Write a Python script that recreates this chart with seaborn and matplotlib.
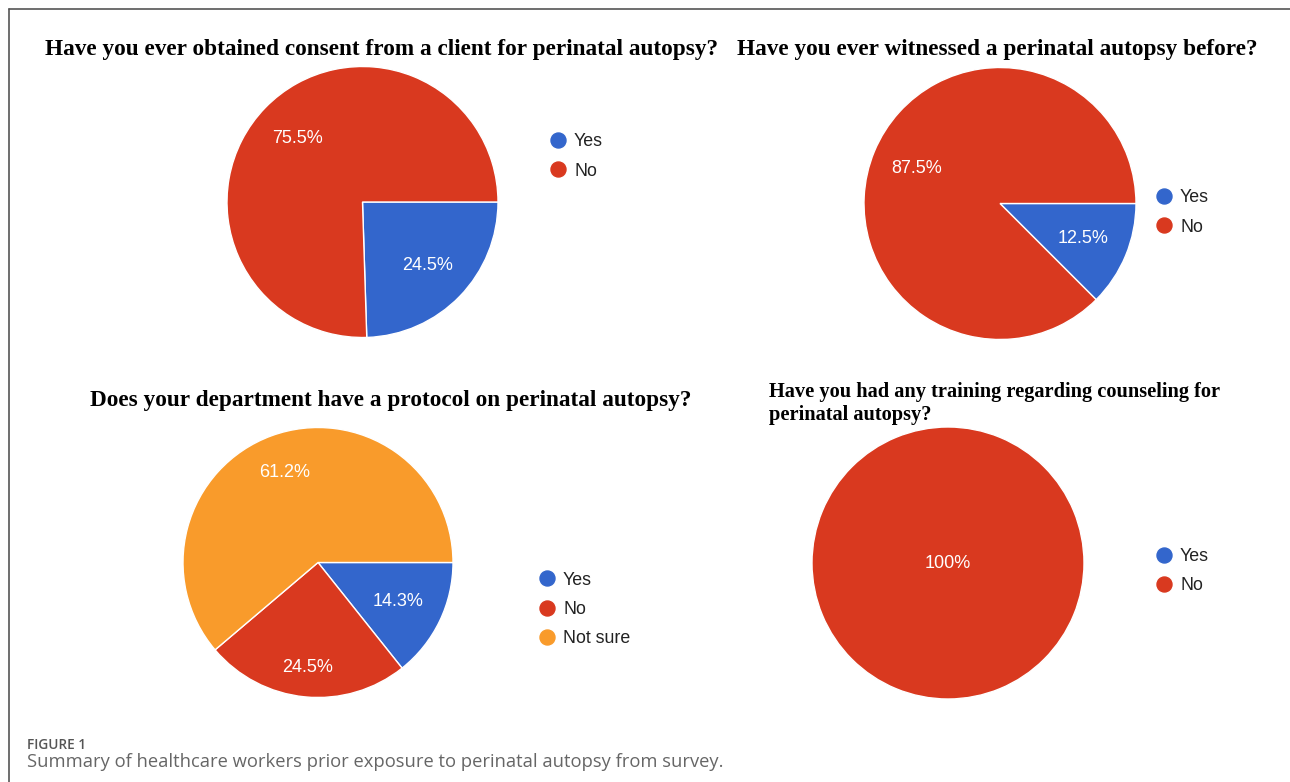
import matplotlib
matplotlib.use("Agg")
import matplotlib.pyplot as plt
from matplotlib.lines import Line2D
import seaborn as sns

# ---- survey results (percent of respondents) ----
answers_yes_no = ["Yes", "No"]
answers_protocol = ["Yes", "No", "Not sure"]

consent_pct = [24.5, 75.5]
witnessed_pct = [12.5, 87.5]
protocol_pct = [14.3, 24.5, 61.2]
training_pct = [0.0, 100.0]

title_consent = "Have you ever obtained consent from a client for perinatal autopsy?"
title_witnessed = "Have you ever witnessed a perinatal autopsy before?"
title_protocol = "Does your department have a protocol on perinatal autopsy?"
title_training = "Have you had any training regarding counseling for\nperinatal autopsy?"

caption_label = "FIGURE 1"
caption_text = "Summary of healthcare workers prior exposure to perinatal autopsy from survey."

# ---- styling ----
sns.set_theme(style="white")
palette = sns.color_palette(["#3366CC", "#D9391F", "#F99B2B"])
plt.rcParams["font.family"] = ["Liberation Sans", "DejaVu Sans"]

W, H = 1290, 782
fig = plt.figure(figsize=(W / 100, H / 100), dpi=100)
fig.patch.set_facecolor("white")


def fx(x):
    return x / W


def fy(y):
    return 1 - y / H


def pie_axes(cx, cy, r):
    return fig.add_axes([fx(cx - r), fy(cy + r), 2 * r / W, 2 * r / H])


def fmt_pct(p):
    if p <= 0:
        return ""
    s = f"{p:.1f}"
    if s.endswith(".0"):
        s = s[:-2]
    return s + "%"


def draw_pie(ax, values, labels, label_radii, legend_xy, title, title_xy, title_size):
    colors = palette[: len(values)]
    wedges, _, autotexts = ax.pie(
        values,
        colors=colors,
        startangle=0,
        counterclock=False,
        autopct=fmt_pct,
        pctdistance=0.7,
        radius=1,
        wedgeprops=dict(edgecolor="white", linewidth=1.0),
        textprops=dict(color="white", fontsize=13, family="Liberation Sans"),
    )
    nonzero = [v for v in values if v > 0]
    for w, t, v, rr in zip(wedges, autotexts, values, label_radii):
        if v <= 0:
            w.set_visible(False)
            t.set_visible(False)
            continue
        if len(nonzero) == 1:
            t.set_position((0, 0))
        else:
            x, y = t.get_position()
            k = rr / 0.7
            t.set_position((x * k, y * k))
    ax.set_xlim(-1, 1)
    ax.set_ylim(-1, 1)
    ax.set_aspect("equal")
    ax.axis("off")

    handles = [
        Line2D([], [], marker="o", linestyle="", markersize=10.8,
               markerfacecolor=c, markeredgecolor=c)
        for c in colors
    ]
    fig.legend(
        handles, labels,
        loc="center left",
        bbox_to_anchor=(fx(legend_xy[0]), fy(legend_xy[1])),
        frameon=False, borderpad=0, borderaxespad=0,
        handlelength=0.95, handletextpad=0.42, labelspacing=0.7,
        prop=dict(family="Liberation Sans", size=12.8),
        labelcolor="#222222",
    )
    fig.text(fx(title_xy[0]), fy(title_xy[1]), title,
             family=["Liberation Serif", "DejaVu Serif"], weight="bold",
             size=title_size, color="black", ha="left", va="baseline",
             linespacing=1.2)


draw_pie(pie_axes(362.5, 202, 135.5), consent_pct, answers_yes_no,
         [0.67, 0.67], (549.7, 156.5), title_consent, (45, 55), 16.75)
draw_pie(pie_axes(1000, 203.5, 136), witnessed_pct, answers_yes_no,
         [0.665, 0.665], (1155.7, 212.5), title_witnessed, (737, 55), 16.75)
draw_pie(pie_axes(318, 562.5, 135), protocol_pct, answers_protocol,
         [0.66, 0.78, 0.71], (538.7, 609.5), title_protocol, (90, 406), 16.75)
draw_pie(pie_axes(948, 563, 136), training_pct, answers_yes_no,
         [0.0, 0.0], (1155.7, 571), title_training, (769, 420), 14.7)

# frame lines on the top and left side
frame_kw = dict(color="#555555", linewidth=1.2, transform=fig.transFigure)
fig.add_artist(Line2D([fx(9), 1], [fy(9), fy(9)], **frame_kw))
fig.add_artist(Line2D([fx(9), fx(9)], [fy(9), 0], **frame_kw))

# figure caption
fig.text(fx(27), fy(749), caption_label, family=["Open Sans", "DejaVu Sans"],
         weight="semibold", size=9.8, color="#555555", ha="left", va="baseline")
fig.text(fx(27), fy(767), caption_text, family=["Open Sans", "DejaVu Sans"],
         size=13.2, color="#666666", ha="left", va="baseline")

fig.savefig("out.png", dpi=100, facecolor="white")
